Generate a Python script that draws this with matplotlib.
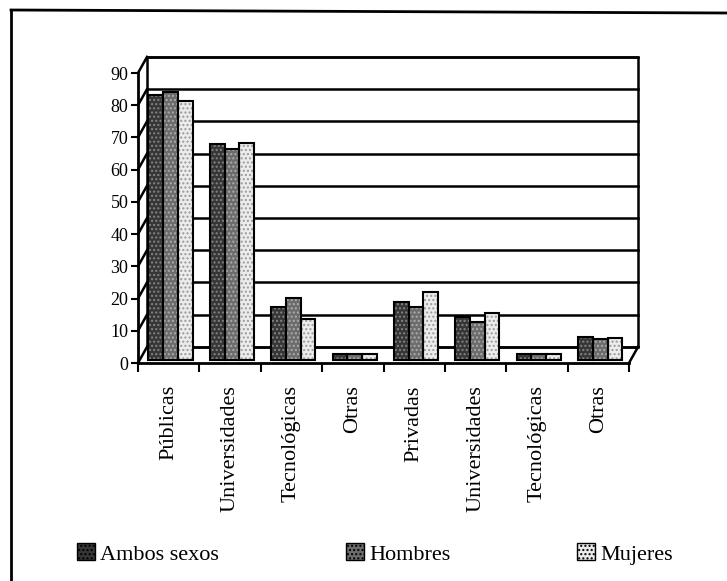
import numpy as np
import matplotlib.pyplot as plt
from matplotlib.patches import Patch
from matplotlib.lines import Line2D

categories = ['Públicas', 'Universidades', 'Tecnológicas', 'Otras',
              'Privadas', 'Universidades', 'Tecnológicas', 'Otras']
ambos = [82.3, 67.1, 16.6, 2.0, 18.0, 13.3, 1.8, 7.3]
hombres = [83.3, 65.4, 19.2, 2.0, 16.5, 11.7, 1.8, 6.4]
mujeres = [80.5, 67.3, 12.9, 1.8, 21.2, 14.5, 1.8, 7.0]
series = ['Ambos sexos', 'Hombres', 'Mujeres']
yticks = np.arange(0, 91, 10)

plt.rcParams['font.family'] = ['Liberation Serif', 'DejaVu Serif']

fig = plt.figure(figsize=(7.27, 5.81), dpi=100)
ax = fig.add_axes([138 / 727, 1 - 363 / 581, 491 / 727, 290 / 581])

n = len(categories)
ax.set_xlim(0, n)
ax.set_ylim(0, 90)

# 3D look: back wall shifted right/up
dx, dy = 0.147, 5.0
lw = 1.8
kw = dict(color='black', lw=lw, clip_on=False, zorder=1)
ax.plot([dx, n + dx, n + dx, dx, dx], [dy, dy, 90 + dy, 90 + dy, dy], **kw)
for v in yticks:
    ax.plot([dx, n + dx], [v + dy, v + dy], **kw)
    ax.plot([0, dx], [v, v + dy], **kw)
ax.plot([n, n + dx], [0, dy], **kw)

# bars
x = np.arange(n) + 0.5 + 0.03
w = 0.24
base = 0.9
faces = ['#363636', '#6c6c6c', '#ececec']
hatchc = ['#858585', '#acacac', '#9a9a9a']
for i, vals in enumerate([ambos, hombres, mujeres]):
    xi = x + (i - 1) * w
    ax.bar(xi, vals, w, bottom=base, color=faces[i], edgecolor=hatchc[i],
           hatch='....', linewidth=0, zorder=3, clip_on=False)
    ax.bar(xi, vals, w, bottom=base, facecolor='none', edgecolor='black',
           linewidth=1.5, zorder=4, clip_on=False)

# axes styling
for s in ['top', 'right']:
    ax.spines[s].set_visible(False)
for s in ['left', 'bottom']:
    ax.spines[s].set_linewidth(2)
ax.set_yticks(yticks)
ax.tick_params(axis='y', direction='out', length=5, width=1.5, pad=2,
               labelsize=13)
ax.set_xticks(np.arange(n + 1))
ax.set_xticklabels([])
ax.tick_params(axis='x', which='major', direction='out', length=6.5, width=1.5)
ax.set_xticks(np.arange(n) + 0.5, minor=True)
ax.set_xticklabels(categories, minor=True, rotation=90, fontsize=16)
ax.tick_params(axis='x', which='minor', length=0, pad=16)

# legend
handles = [Patch(facecolor=faces[i], edgecolor='black', hatch='....', lw=1)
           for i in range(3)]
fig.legend(handles, series, loc='center left', ncol=3, frameon=False,
           bbox_to_anchor=(77 / 727, 1 - 554 / 581), borderpad=0,
           borderaxespad=0, fontsize=16, handlelength=0.8, handleheight=0.8,
           handletextpad=0.25, columnspacing=5.7)

# page border from the scan
fig.add_artist(Line2D([11 / 727, 1], [1 - 10 / 581, 1 - 13 / 581],
                      color='black', lw=2, transform=fig.transFigure))
fig.add_artist(Line2D([11 / 727, 11 / 727], [1 - 10 / 581, 0],
                      color='black', lw=2, transform=fig.transFigure))

fig.savefig('out.png', dpi=100)
